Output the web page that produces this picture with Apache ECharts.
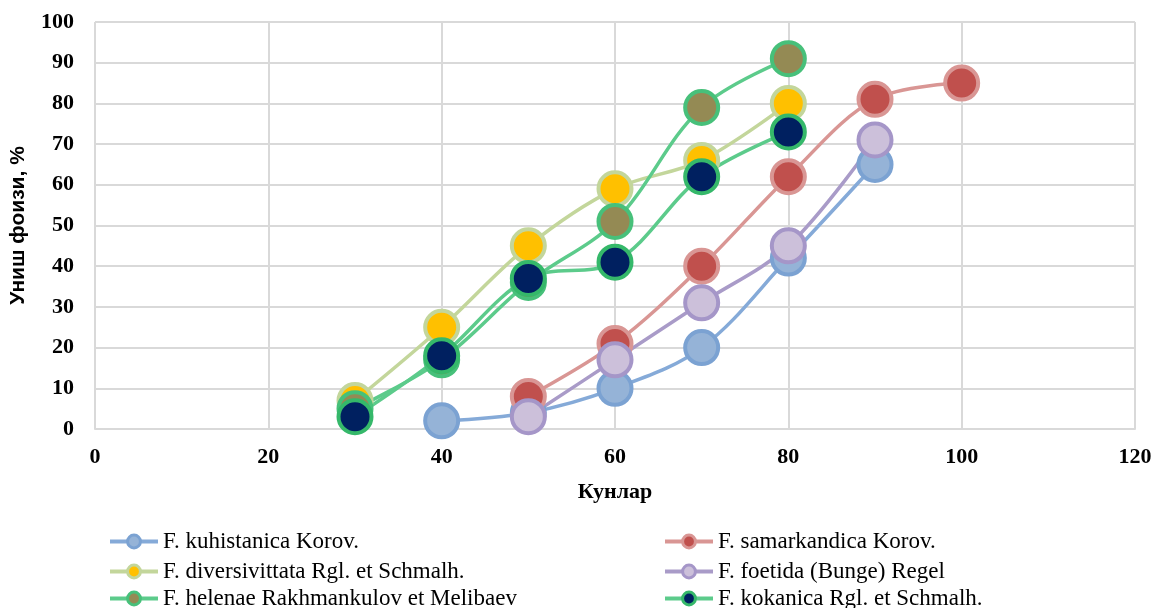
<!DOCTYPE html>
<html><head><meta charset="utf-8">
<script src="https://cdn.jsdelivr.net/npm/echarts@6/dist/echarts.min.js"></script>
<style>html,body{margin:0;padding:0;background:#fff}#c{width:1154px;height:608px}</style>
</head><body><div id="c"></div>
<script>
const seriesNames = ["F. kuhistanica Korov.","F. samarkandica Korov.","F. diversivittata Rgl. et Schmalh.","F. foetida (Bunge) Regel","F. helenae Rakhmankulov et Melibaev","F. kokanica Rgl. et Schmalh."];
const kuhistanica = [[40,2],[50,4],[60,10],[70,20],[80,42],[90,65]];
const samarkandica = [[50,8],[60,21],[70,40],[80,62],[90,81],[100,85]];
const diversivittata = [[30,7],[40,25],[50,45],[60,59],[70,66],[80,80]];
const foetida = [[50,3],[60,17],[70,31],[80,45],[90,71]];
const helenae = [[30,5],[40,17],[50,36],[60,51],[70,79],[80,91]];
const kokanica = [[30,3],[40,18],[50,37],[60,41],[70,62],[80,73]];
const xTicks = {min:0,max:120,interval:20};
const yTicks = {min:0,max:100,interval:10};

const styles = [
  {line:'#85AAD8', fill:'#95B3D7', border:'#7BA2D2'},
  {line:'#D99694', fill:'#C0504D', border:'#D99694'},
  {line:'#C3D69B', fill:'#FFC000', border:'#C3D69B'},
  {line:'#A99BC8', fill:'#CCC0DA', border:'#A596C8'},
  {line:'#5CCB8B', fill:'#948A54', border:'#47C07A'},
  {line:'#5CCB8B', fill:'#002060', border:'#35B86A'}
];
const datas = [kuhistanica,samarkandica,diversivittata,foetida,helenae,kokanica];
const series = datas.map((d,i)=>({
  name: seriesNames[i], type:'line', data:d, smooth:0.35,
  symbol:'circle', symbolSize:33,
  lineStyle:{color:styles[i].line, width:3.5},
  itemStyle:{color:styles[i].fill, borderColor:styles[i].border, borderWidth:4},
  emphasis:{disabled:true}
}));
const serif = '"Liberation Serif","Times New Roman",serif';
const legendPos = [[108,530],[663,530],[108,560],[663,560],[108,587],[663,587]];
const legends = seriesNames.map((n,i)=>({
  data:[n], left:legendPos[i][0], top:legendPos[i][1], padding:0,
  itemWidth:48, itemHeight:16, itemGap:0,
  lineStyle:{width:4},
  itemStyle:{borderWidth:3},
  textStyle:{fontFamily:serif,fontSize:23,color:'#000'}
}));
const chart = echarts.init(document.getElementById('c'));
chart.setOption({
  animation:false,
  grid:{left:95,right:19,top:22,bottom:179,containLabel:false,outerBoundsMode:'none'},
  xAxis:{type:'value',min:xTicks.min,max:xTicks.max,interval:xTicks.interval,
    name:'Кунлар',nameLocation:'middle',nameGap:52,
    nameTextStyle:{fontFamily:serif,fontWeight:'bold',fontSize:22,color:'#000'},
    axisLine:{show:true,lineStyle:{color:'#D9D9D9',width:2}},axisTick:{show:false},
    axisLabel:{fontFamily:serif,fontWeight:'bold',fontSize:22,color:'#000',margin:17},
    splitLine:{show:true,lineStyle:{color:'#D9D9D9',width:2}}},
  yAxis:{type:'value',min:yTicks.min,max:yTicks.max,interval:yTicks.interval,
    name:'Униш фоизи, %',nameLocation:'middle',nameGap:66,nameRotate:90,
    nameTextStyle:{fontFamily:'"Liberation Sans",Arial,sans-serif',fontWeight:'bold',fontSize:21,color:'#000'},
    axisLine:{show:false},axisTick:{show:false},
    axisLabel:{fontFamily:serif,fontWeight:'bold',fontSize:22,color:'#000',margin:21},
    splitLine:{show:true,lineStyle:{color:'#D9D9D9',width:2}}},
  legend:legends,
  series:series
});
</script></body></html>
